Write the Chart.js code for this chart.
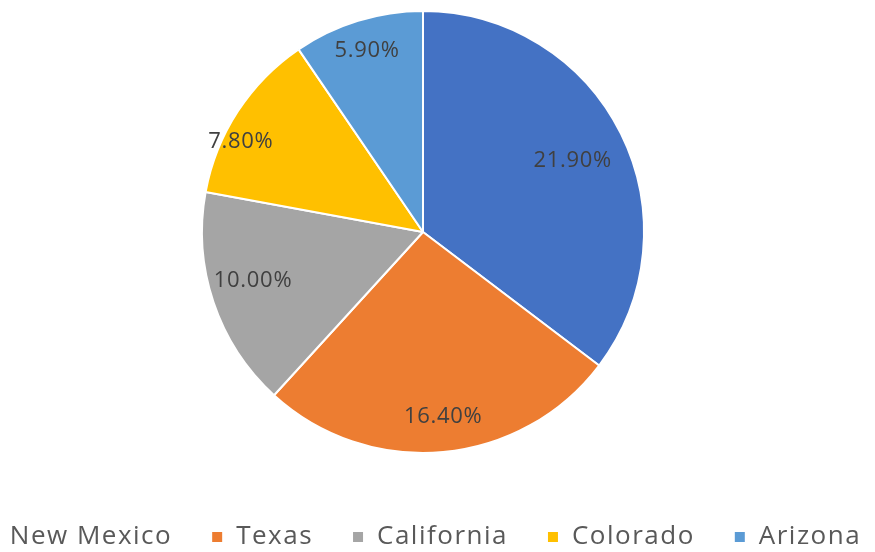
<!DOCTYPE html>
<html>
<head>
<meta charset="utf-8">
<script src="https://cdn.jsdelivr.net/npm/chart.js@4.4.0/dist/chart.umd.min.js"></script>
<style>
  html, body { margin: 0; padding: 0; background: #fff; overflow: hidden; }
  body { width: 875px; height: 552px; position: relative; }
  #wrap { position: absolute; left: -77px; top: 0; width: 1000px; height: 560px; }
</style>
</head>
<body>
<div id="wrap"><canvas id="pie"></canvas></div>
<script>
// Dados do grafico
const states = ['New Mexico', 'Texas', 'California', 'Colorado', 'Arizona'];
const shares = [21.9, 16.4, 10.0, 7.8, 5.9];
const sliceColors = ['#4472C4', '#ED7D31', '#A5A5A5', '#FFC000', '#5B9BD5'];

// Posicao de cada rotulo: fracao do raio e desvio angular (graus), imitando o "best fit" do Excel
const labelRadius = [0.75, 0.84, 0.8, 0.92, 0.86];
const labelTurn = [1, -1, 2.6, -6.7, 0];

// Espacamento entre letras da legenda (a fonte original e mais larga)
const letterSpacing = {
    id: 'letterSpacing',
    beforeLayout(chart) { chart.ctx.letterSpacing = '1.5px'; },
    beforeDraw(chart) { chart.ctx.letterSpacing = '1.5px'; }
};

// Desenha os rotulos percentuais dentro das fatias
const sliceLabels = {
    id: 'sliceLabels',
    afterDatasetsDraw(chart) {
        const ctx = chart.ctx;
        const meta = chart.getDatasetMeta(0);
        ctx.save();
        ctx.letterSpacing = '0.7px';
        ctx.font = '22px "Open Sans", sans-serif';
        ctx.fillStyle = '#404040';
        ctx.textAlign = 'center';
        ctx.textBaseline = 'middle';
        meta.data.forEach((arc, i) => {
            const p = arc.getProps(['x', 'y', 'startAngle', 'endAngle', 'outerRadius'], true);
            const mid = (p.startAngle + p.endAngle) / 2 + labelTurn[i] * Math.PI / 180;
            const r = p.outerRadius * labelRadius[i];
            ctx.fillText(shares[i].toFixed(2) + '%', p.x + Math.cos(mid) * r, p.y + Math.sin(mid) * r);
        });
        ctx.restore();
    }
};

new Chart(document.getElementById('pie'), {
    type: 'pie',
    data: {
        labels: states,
        datasets: [{
            data: shares,
            backgroundColor: sliceColors,
            borderColor: '#ffffff',
            borderWidth: 2
        }]
    },
    options: {
        responsive: true,
        maintainAspectRatio: false,
        animation: false,
        layout: { padding: { top: 10, left: 0, right: 0, bottom: 0 } },
        plugins: {
            tooltip: { enabled: false },
            legend: {
                position: 'bottom',
                // titulo vazio so para empurrar a legenda para baixo
                title: { display: true, text: '', padding: { top: 7, bottom: 0 }, font: { size: 20 } },
                labels: {
                    boxWidth: 12,
                    boxHeight: 12,
                    padding: 39,
                    color: '#595959',
                    font: { family: '"Open Sans", sans-serif', size: 26 }
                }
            }
        }
    },
    plugins: [letterSpacing, sliceLabels]
});
</script>
</body>
</html>
